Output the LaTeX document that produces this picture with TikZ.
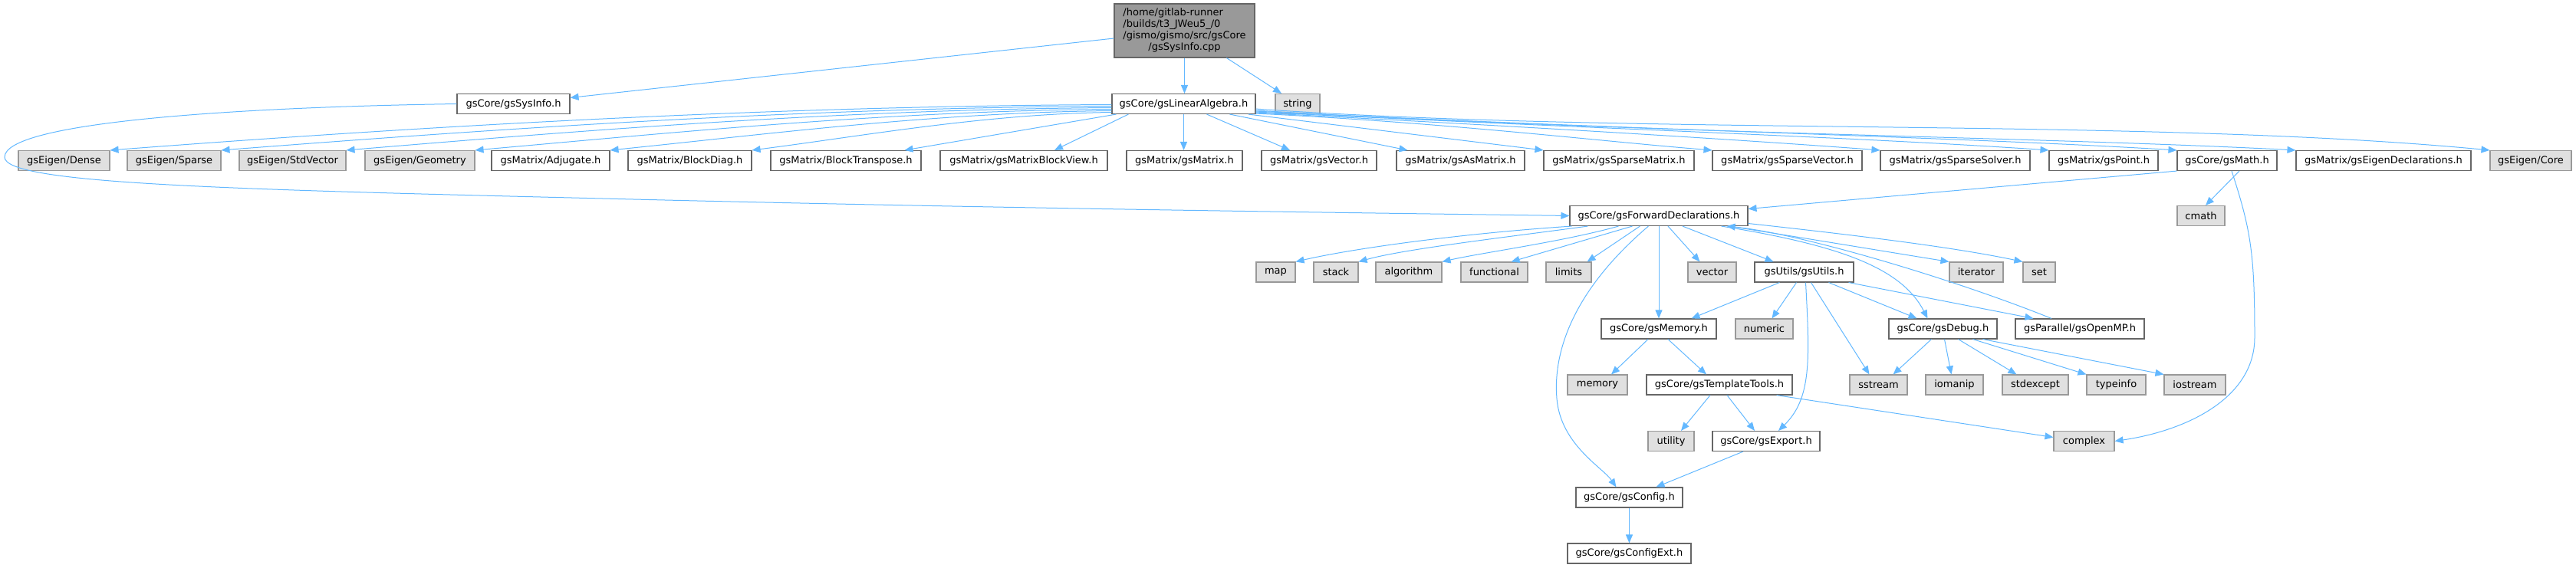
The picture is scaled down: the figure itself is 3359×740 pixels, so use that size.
\documentclass[tikz,border=0pt]{standalone}
\usepackage{fontspec}
\setmainfont{DejaVu Sans}
\usetikzlibrary{arrows.meta,calc}
\definecolor{edgeblue}{HTML}{63B8FF}
\definecolor{bordN}{HTML}{666666}
\definecolor{bordE}{HTML}{999999}
\definecolor{fillE}{HTML}{E0E0E0}
\definecolor{fillR}{HTML}{999999}
\begin{document}
\begin{tikzpicture}[x=0.5pt,y=-0.5pt,
  nbox/.style={draw=bordN, fill=white, rectangle, line width=0.55pt, minimum height=13pt, inner sep=0pt, font=\fontsize{6.5pt}{7.5pt}\selectfont},
  ebox/.style={nbox, draw=bordE, fill=fillE},
  rootbox/.style={nbox, fill=fillR, minimum height=35pt},
  edge/.style={draw=edgeblue, line width=0.5pt, -{Triangle[length=5.5pt,width=4.5pt]}}]
\useasboundingbox (0,0) rectangle (3359,740);
% nodes
\node[rootbox, minimum width=91.5pt] (root) at (1544.5,40) {\begin{tabular}{@{}l@{}}/home/gitlab-runner\\/builds/t3\_JWeu5\_/0\\/gismo/gismo/src/gsCore\\\multicolumn{1}{@{}c@{}}{/gsSysInfo.cpp}\end{tabular}};
\node[nbox, minimum width=73.5pt] (sysinfo) at (669.5,135.5) {gsCore/gsSysInfo.h};
\node[nbox, minimum width=93.5pt] (la) at (1543.5,135.5) {gsCore/gsLinearAlgebra.h};
\node[ebox, minimum width=29pt] (string) at (1692,135.5) {string};
\node[ebox, minimum width=59.5pt] (dense) at (83.5,209.5) {gsEigen/Dense};
\node[ebox, minimum width=61pt] (sparse) at (227,209.5) {gsEigen/Sparse};
\node[ebox, minimum width=69.5pt] (stdvector) at (381.5,209.5) {gsEigen/StdVector};
\node[ebox, minimum width=71.5pt] (geometry) at (547.5,209.5) {gsEigen/Geometry};
\node[nbox, minimum width=77pt] (adjugate) at (718,209.5) {gsMatrix/Adjugate.h};
\node[nbox, minimum width=80.5pt] (blockdiag) at (899.5,209.5) {gsMatrix/BlockDiag.h};
\node[nbox, minimum width=98pt] (blocktranspose) at (1103,209.5) {gsMatrix/BlockTranspose.h};
\node[nbox, minimum width=109pt] (blockview) at (1335,209.5) {gsMatrix/gsMatrixBlockView.h};
\node[nbox, minimum width=75.5pt] (gsmatrix) at (1544.5,209.5) {gsMatrix/gsMatrix.h};
\node[nbox, minimum width=75pt] (gsvector) at (1720,209.5) {gsMatrix/gsVector.h};
\node[nbox, minimum width=83.5pt] (asmatrix) at (1904.5,209.5) {gsMatrix/gsAsMatrix.h};
\node[nbox, minimum width=98pt] (sparsematrix) at (2111,209.5) {gsMatrix/gsSparseMatrix.h};
\node[nbox, minimum width=97.5pt] (sparsevector) at (2330.5,209.5) {gsMatrix/gsSparseVector.h};
\node[nbox, minimum width=97.5pt] (sparsesolver) at (2549.5,209.5) {gsMatrix/gsSparseSolver.h};
\node[nbox, minimum width=71pt] (gspoint) at (2743,209.5) {gsMatrix/gsPoint.h};
\node[nbox, minimum width=65pt] (gsmath) at (2904,209.5) {gsCore/gsMath.h};
\node[nbox, minimum width=114pt] (eigendecl) at (3108,209.5) {gsMatrix/gsEigenDeclarations.h};
\node[ebox, minimum width=53pt] (eigencore) at (3300,209.5) {gsEigen/Core};
\node[nbox, minimum width=116pt] (fd) at (2163,281.5) {gsCore/gsForwardDeclarations.h};
\node[ebox, minimum width=31pt] (cmath) at (2870,281.5) {cmath};
\node[ebox, minimum width=25.5pt] (map) at (1663.5,355) {map};
\node[ebox, minimum width=29pt] (stack) at (1742,355) {stack};
\node[ebox, minimum width=43pt] (algorithm) at (1837,355) {algorithm};
\node[ebox, minimum width=43.5pt] (functional) at (1948.5,355) {functional};
\node[ebox, minimum width=29.5pt] (limits) at (2045.5,355) {limits};
\node[ebox, minimum width=31.5pt] (vector) at (2232.5,355) {vector};
\node[nbox, minimum width=64.5pt] (gsutils) at (2352.5,355) {gsUtils/gsUtils.h};
\node[ebox, minimum width=35pt] (iterator) at (2577,355) {iterator};
\node[ebox, minimum width=21pt] (set) at (2659,355) {set};
\node[nbox, minimum width=75pt] (gsmemory) at (2163,429) {gsCore/gsMemory.h};
\node[ebox, minimum width=37.5pt] (numeric) at (2300.5,429) {numeric};
\node[nbox, minimum width=70.5pt] (gsdebug) at (2533.5,429) {gsCore/gsDebug.h};
\node[nbox, minimum width=84pt] (openmp) at (2712,429) {gsParallel/gsOpenMP.h};
\node[ebox, minimum width=39pt] (memory) at (2083,502) {memory};
\node[nbox, minimum width=95pt] (templatetools) at (2242,502) {gsCore/gsTemplateTools.h};
\node[ebox, minimum width=37.5pt] (sstream) at (2449.5,502) {sstream};
\node[ebox, minimum width=37.5pt] (iomanip) at (2548.5,502) {iomanip};
\node[ebox, minimum width=43pt] (stdexcept) at (2654,502) {stdexcept};
\node[ebox, minimum width=38.5pt] (typeinfo) at (2759.5,502) {typeinfo};
\node[ebox, minimum width=40pt] (iostream) at (2862,502) {iostream};
\node[ebox, minimum width=30pt] (utility) at (2179,575.5) {utility};
\node[nbox, minimum width=70pt] (gsexport) at (2303,575.5) {gsCore/gsExport.h};
\node[ebox, minimum width=39.5pt] (complex) at (2717.5,575.5) {complex};
\node[nbox, minimum width=69.5pt] (gsconfig) at (2124.5,649) {gsCore/gsConfig.h};
\node[nbox, minimum width=80.5pt] (configext) at (2124.5,722) {gsCore/gsConfigExt.h};
% root edges
\draw[edge] (root) -- (sysinfo);
\draw[edge] (root.south) -- (root.south |- la.north);
\draw[edge] (root) -- (string);
% sysinfo -> fd
\draw[edge] (sysinfo.west) .. controls (300,140) and (6,160) .. (6,205) .. controls (6,240) and (300,247) .. (786,259) .. controls (1300,272) and (1800,278) .. (fd.west);
% la -> left group
\draw[edge] ($(la.west)+(0,1)$) .. controls +(-457,2) and +(392,-30) .. (dense.north east);
\draw[edge] ($(la.west)+(0,3)$) .. controls +(-407,2) and +(349,-27) .. (sparse.north east);
\draw[edge] ($(la.west)+(0,5)$) .. controls +(-350,2) and +(300,-25) .. (stdvector.north east);
\draw[edge] ($(la.west)+(0,7)$) .. controls +(-291,2) and +(249,-22) .. (geometry.north east);
\draw[edge] ($(la.west)+(0,9)$) .. controls +(-229,2) and +(197,-20) .. (adjugate.north east);
\draw[edge] ($(la.west)+(0,11)$) .. controls +(-165,2) and +(141,-18) .. (blockdiag.north east);
\draw[edge] ($(la.south west)+(6,0)$) -- ($(blocktranspose.north east)+(-22,0)$);
\draw[edge] ($(la.south west)+(22,0)$) -- ($(blockview.north)+(40,0)$);
\draw[edge] (la.south) -- (la.south |- gsmatrix.north);
\draw[edge] ($(la.south)+(30,0)$) -- ($(gsvector.north)+(-38,0)$);
\draw[edge] ($(la.south)+(60,0)$) -- ($(asmatrix.north west)+(15,0)$);
\draw[edge] ($(la.south east)+(-10,0)$) -- (sparsematrix.north west);
% la -> right group
\draw[edge] ($(la.south east)+(0,-1)$) .. controls +(250,12) and +(-150,-12) .. (sparsevector.north west);
\draw[edge] ($(la.south east)+(0,-2)$) .. controls +(350,18) and +(-200,-15) .. (sparsesolver.north west);
\draw[edge] ($(la.south east)+(0,-3)$) .. controls +(450,22) and +(-250,-17) .. (gspoint.north west);
\draw[edge] ($(la.south east)+(0,-4)$) .. controls +(500,25) and +(-300,-18) .. (gsmath.north west);
\draw[edge] ($(la.south east)+(0,-5)$) .. controls +(500,30) and +(-350,-18) .. (eigendecl.north west);
\draw[edge] ($(la.south east)+(0,-7)$) .. controls +(500,35) and +(-450,-43) .. (eigencore.north west);
% gsMath
\draw[edge] (gsmath.south west) -- ($(fd.east)+(0,-9)$);
\draw[edge] ($(gsmath.south)+(16,0)$) -- ($(cmath.north)+(6,0)$);
\draw[edge] ($(gsmath.south)+(6,0)$) .. controls (2935,300) and (2940,330) .. (2940,440) .. controls (2940,520) and (2850,562) .. (complex.east);
% fd edges
\draw[edge] ($(fd.south west)+(3,0)$) .. controls (1900,305) and (1760,325) .. (map.north east);
\draw[edge] ($(fd.south west)+(24,0)$) .. controls (1960,310) and (1830,325) .. (stack.north east);
\draw[edge] ($(fd.south west)+(64,0)$) .. controls (2040,315) and (1930,330) .. (algorithm.north east);
\draw[edge] ($(fd.south west)+(82,0)$) -- ($(functional.north east)+(-22,0)$);
\draw[edge] ($(fd.south west)+(92,0)$) -- ($(limits.north east)+(-6,0)$);
\draw[edge] ($(fd.south west)+(103,0)$) .. controls (2050,380) and (2025,460) .. (2030,520) .. controls (2035,580) and (2090,610) .. ($(gsconfig.north)+(-17,0)$);
\draw[edge] (fd.south) -- (fd.south |- gsmemory.north);
\draw[edge] ($(fd.south)+(12,0)$) -- ($(vector.north)+(-16,0)$);
\draw[edge] ($(fd.south)+(31,0)$) -- ($(gsutils.north)+(-40,0)$);
\draw[edge] ($(fd.south east)+(-25,0)$) .. controls (2350,310) and (2470,330) .. (iterator.north west);
\draw[edge] ($(fd.east)+(0,10)$) .. controls (2450,310) and (2560,325) .. (set.north west);
\draw[edge] ($(fd.south east)+(-35,0)$) .. controls (2400,320) and (2480,350) .. ($(gsdebug.north)+(-20,0)$);
\draw[edge] ($(openmp.north)+(-37,0)$) .. controls (2550,365) and (2350,305) .. ($(fd.south east)+(-28,0)$);
% gsUtils edges
\draw[edge] ($(gsutils.south west)+(33,0)$) -- ($(gsmemory.north east)+(-33,0)$);
\draw[edge] ($(gsutils.south)+(-10,0)$) -- ($(numeric.north)+(10,0)$);
\draw[edge] ($(gsutils.south)+(2,0)$) .. controls (2360,470) and (2362,520) .. ($(gsexport.north)+(16,0)$);
\draw[edge] ($(gsutils.south)+(9,0)$) -- ($(sstream.north)+(-12,0)$);
\draw[edge] ($(gsutils.south)+(32,0)$) -- ($(gsdebug.north)+(-34,0)$);
\draw[edge] ($(gsutils.south east)+(-7,0)$) -- ($(openmp.north west)+(24,0)$);
% gsDebug edges
\draw[edge] ($(gsdebug.south)+(-15,0)$) -- ($(sstream.north east)+(-19,0)$);
\draw[edge] ($(gsdebug.south)+(2,0)$) -- ($(iomanip.north)+(-4,0)$);
\draw[edge] ($(gsdebug.south)+(20,0)$) -- ($(stdexcept.north west)+(19,0)$);
\draw[edge] ($(gsdebug.south)+(39,0)$) -- (typeinfo.north west);
\draw[edge] ($(gsdebug.south)+(52,0)$) -- (iostream.north west);
% gsMemory edges
\draw[edge] ($(gsmemory.south)+(-14,0)$) -- ($(memory.north)+(18,0)$);
\draw[edge] ($(gsmemory.south)+(12,0)$) -- ($(templatetools.north)+(-17,0)$);
% template tools
\draw[edge] ($(templatetools.south)+(-12,0)$) -- ($(utility.north)+(13,0)$);
\draw[edge] ($(templatetools.south)+(10,0)$) -- ($(gsexport.north)+(-15,0)$);
\draw[edge] ($(templatetools.south east)+(-21,0)$) -- ($(complex.west)+(0,-5)$);
% export, config
\draw[edge] ($(gsexport.south)+(-30,0)$) -- ($(gsconfig.north)+(35,0)$);
\draw[edge] (gsconfig) -- (configext);
\end{tikzpicture}
\end{document}
